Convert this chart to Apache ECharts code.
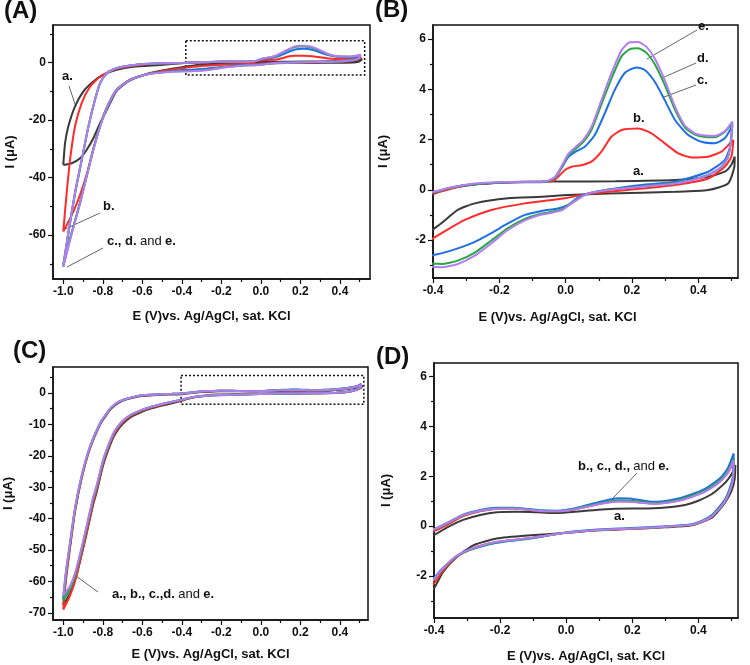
<!DOCTYPE html>
<html>
<head>
<meta charset="utf-8">
<script src="https://cdn.jsdelivr.net/npm/echarts@6/dist/echarts.min.js"></script>
<style>
html,body{margin:0;padding:0;background:#fff;}
#chart{width:750px;height:665px;}
</style>
</head>
<body>
<div id="chart"></div>
<script>
// ---------- tick values ----------
const xTicksFull = [-1.0, -0.8, -0.6, -0.4, -0.2, 0.0, 0.2, 0.4];
const xMinorFull = [-0.9, -0.7, -0.5, -0.3, -0.1, 0.1, 0.3, 0.5];
const xTicksZoom = [-0.4, -0.2, 0.0, 0.2, 0.4];
const xMinorZoom = [-0.3, -0.1, 0.1, 0.3, 0.5];
const yTicksA = [-60, -40, -20, 0];
const yMinorA = [-70, -50, -30, -10, 10];
const yTicksB = [-2, 0, 2, 4, 6];
const yMinorB = [-3, -1, 1, 3, 5];
const yTicksC = [-70, -60, -50, -40, -30, -20, -10, 0];
const yMinorC = [-65, -55, -45, -35, -25, -15, -5, 5];
const yTicksD = [-2, 0, 2, 4, 6];
const yMinorD = [-3, -1, 1, 3, 5];

const curveNames = ['a.', 'b.', 'c.', 'd.', 'e.'];

// ---------- experiment 1 (panels A and B): [E (V), I (uA)] ----------
const a1 = [[-1.0,-35.6],[-0.991,-28],[-0.975,-22.3],[-0.941,-15.3],[-0.899,-10.1],[-0.848,-6.6],[-0.8,-4.3],[-0.73,-2.5],[-0.646,-1.4],[-0.51,-0.8],[-0.45,-0.45],[-0.4,-0.17],
[-0.35,0.05],[-0.274,0.21],[-0.2,0.28],[-0.123,0.32],[0.0,0.33],[0.15,0.34],[0.33,0.39],[0.43,0.52],[0.48,0.72],[0.5,1.0],[0.51,1.32],
[0.509,0.92],[0.49,0.25],[0.43,-0.01],[0.33,-0.08],[0.128,-0.15],[0.008,-0.21],[-0.073,-0.28],[-0.174,-0.34],[-0.274,-0.54],[-0.325,-0.8],[-0.375,-1.33],[-0.4,-1.58],
[-0.45,-2.1],[-0.5,-2.7],[-0.561,-3.6],[-0.662,-6.2],[-0.73,-9.8],[-0.78,-16.5],[-0.814,-21.1],[-0.848,-26.3],[-0.882,-30.4],[-0.915,-33.3],[-0.957,-35],[-1.0,-35.6]];

const b1 = [[-1.0,-58.8],[-0.983,-45.5],[-0.966,-33.9],[-0.941,-22.3],[-0.907,-14.1],[-0.865,-8.4],[-0.814,-4.9],[-0.747,-2.5],[-0.68,-1.4],[-0.6,-0.7],[-0.5,-0.3],[-0.4,-0.14],
[-0.3,0.18],[-0.2,0.28],[-0.12,0.31],[-0.063,0.32],[-0.033,0.39],[-0.002,0.79],[0.018,0.92],[0.048,0.98],[0.078,1.12],[0.108,1.52],[0.138,2.11],[0.169,2.38],[0.219,2.44],[0.259,2.25],[0.299,1.85],[0.34,1.45],[0.38,1.29],[0.43,1.32],[0.47,1.52],[0.496,1.85],[0.506,1.98],
[0.5,1.32],[0.48,0.92],[0.43,0.45],[0.33,0.19],[0.229,0.05],[0.128,-0.08],[0.048,-0.21],[-0.002,-0.34],[-0.043,-0.41],[-0.123,-0.54],[-0.224,-0.8],[-0.304,-1.2],[-0.375,-1.73],[-0.4,-1.93],
[-0.45,-2.4],[-0.5,-2.9],[-0.561,-3.7],[-0.662,-5.9],[-0.73,-9.4],[-0.78,-15.8],[-0.814,-22],[-0.848,-30],[-0.88,-38.5],[-0.915,-46],[-0.95,-52],[-1.0,-58.8]];

const c1 = [[-1.0,-70.5],[-0.974,-59],[-0.94,-45],[-0.906,-33.5],[-0.872,-22],[-0.84,-13],[-0.814,-7.2],[-0.78,-3.7],[-0.745,-2.3],[-0.713,-1.6],[-0.65,-0.9],[-0.595,-0.5],[-0.5,-0.25],[-0.4,-0.1],
[-0.35,0.07],[-0.3,0.19],[-0.2,0.28],[-0.12,0.3],[-0.063,0.31],[-0.033,0.47],[-0.013,0.85],[0.008,1.3],[0.028,1.5],[0.058,1.71],[0.088,2.18],[0.118,3.04],[0.148,3.97],[0.179,4.66],[0.214,4.87],[0.239,4.77],[0.269,4.3],[0.299,3.57],[0.33,2.78],[0.37,2.18],[0.41,1.91],[0.45,1.85],[0.48,2.05],[0.503,2.55],
[0.496,1.72],[0.48,1.18],[0.43,0.72],[0.33,0.32],[0.229,0.19],[0.128,0.01],[0.068,-0.15],[0.038,-0.3],[0.008,-0.6],[-0.023,-0.74],[-0.073,-0.84],[-0.123,-1.0],[-0.174,-1.34],[-0.224,-1.72],[-0.274,-2.07],[-0.325,-2.33],[-0.375,-2.53],[-0.4,-2.6],
[-0.45,-2.9],[-0.5,-3.3],[-0.561,-3.8],[-0.662,-5.9],[-0.73,-9.4],[-0.78,-15.7],[-0.814,-22.1],[-0.848,-30.2],[-0.882,-39.5],[-0.915,-48.7],[-0.966,-61.3],[-1.0,-70.5]];

const d1 = [[-1.0,-71],[-0.973,-59],[-0.94,-45.5],[-0.905,-33.5],[-0.872,-22],[-0.84,-13],[-0.814,-7.2],[-0.78,-3.7],[-0.745,-2.3],[-0.713,-1.6],[-0.65,-0.9],[-0.595,-0.5],[-0.5,-0.25],[-0.4,-0.1],
[-0.35,0.07],[-0.3,0.19],[-0.2,0.29],[-0.12,0.31],[-0.063,0.32],[-0.033,0.48],[-0.013,0.88],[0.008,1.36],[0.028,1.6],[0.053,1.9],[0.078,2.38],[0.108,3.4],[0.138,4.42],[0.169,5.32],[0.194,5.6],[0.219,5.63],[0.244,5.45],[0.269,5.0],[0.299,4.18],[0.33,3.18],[0.36,2.48],[0.39,2.2],[0.42,2.1],[0.45,2.09],[0.48,2.3],[0.503,2.66],
[0.499,1.95],[0.49,1.3],[0.47,0.9],[0.43,0.6],[0.38,0.39],[0.33,0.27],[0.229,0.13],[0.128,0.0],[0.068,-0.15],[0.048,-0.28],[0.028,-0.44],[0.008,-0.62],[-0.013,-0.78],[-0.053,-0.9],[-0.083,-0.98],[-0.123,-1.16],[-0.174,-1.52],[-0.224,-2.02],[-0.274,-2.5],[-0.325,-2.82],[-0.375,-2.95],[-0.4,-2.94],
[-0.45,-3.1],[-0.5,-3.4],[-0.561,-3.85],[-0.662,-6],[-0.73,-9.5],[-0.78,-15.8],[-0.814,-22.2],[-0.848,-30.3],[-0.882,-39.6],[-0.915,-48.8],[-0.966,-61.5],[-1.0,-71]];

const e1 = [[-1.0,-71],[-0.975,-59.4],[-0.941,-45.5],[-0.907,-33.9],[-0.873,-22.3],[-0.84,-13],[-0.814,-7.2],[-0.78,-3.7],[-0.745,-2.3],[-0.713,-1.6],[-0.65,-0.9],[-0.595,-0.5],[-0.5,-0.25],[-0.4,-0.08],
[-0.35,0.08],[-0.3,0.2],[-0.274,0.25],[-0.2,0.3],[-0.12,0.32],[-0.063,0.33],[-0.033,0.5],[-0.013,0.92],[0.008,1.42],[0.028,1.68],[0.053,1.98],[0.078,2.5],[0.108,3.57],[0.138,4.63],[0.169,5.56],[0.194,5.87],[0.219,5.88],[0.244,5.69],[0.269,5.23],[0.299,4.37],[0.33,3.31],[0.36,2.55],[0.39,2.25],[0.42,2.16],[0.45,2.14],[0.48,2.33],[0.503,2.72],
[0.499,1.98],[0.49,1.32],[0.47,0.92],[0.43,0.59],[0.38,0.38],[0.33,0.25],[0.229,0.12],[0.128,-0.01],[0.068,-0.15],[0.048,-0.28],[0.028,-0.45],[0.008,-0.64],[-0.013,-0.82],[-0.053,-0.94],[-0.083,-1.02],[-0.123,-1.22],[-0.174,-1.6],[-0.224,-2.13],[-0.274,-2.62],[-0.325,-2.95],[-0.375,-3.08],[-0.4,-3.06],
[-0.45,-3.2],[-0.5,-3.45],[-0.561,-3.9],[-0.662,-6],[-0.73,-9.5],[-0.78,-15.9],[-0.814,-22.3],[-0.848,-30.4],[-0.882,-39.7],[-0.915,-49],[-0.966,-61.7],[-1.0,-71]];

// ---------- experiment 2 (panels C and D) ----------
const a2 = [[-1.0,-67.5],[-0.986,-58.2],[-0.966,-48.8],[-0.941,-37.6],[-0.907,-27],[-0.865,-17.6],[-0.814,-10],[-0.78,-6.8],[-0.755,-4.8],[-0.72,-3.1],[-0.679,-2.0],[-0.62,-1.1],[-0.561,-0.75],[-0.5,-0.55],[-0.45,-0.45],[-0.4,-0.35],
[-0.36,-0.05],[-0.312,0.25],[-0.26,0.45],[-0.21,0.56],[-0.15,0.58],[-0.108,0.57],[-0.05,0.53],[-0.027,0.53],[0.044,0.6],[0.146,0.7],[0.248,0.71],[0.319,0.77],[0.36,0.85],[0.4,1.02],[0.44,1.28],[0.461,1.5],[0.485,1.8],[0.502,2.12],[0.512,2.45],
[0.51,1.9],[0.5,1.4],[0.481,0.95],[0.46,0.6],[0.44,0.33],[0.38,0.03],[0.298,-0.05],[0.197,-0.11],[0.095,-0.17],[-0.007,-0.28],[-0.108,-0.37],[-0.21,-0.5],[-0.281,-0.77],[-0.332,-1.25],[-0.373,-1.85],[-0.4,-2.5],
[-0.46,-3.4],[-0.5,-4.0],[-0.561,-5.0],[-0.6,-5.9],[-0.662,-7.8],[-0.7,-9.9],[-0.73,-12.3],[-0.75,-14.6],[-0.78,-19.5],[-0.8,-23.4],[-0.831,-31.5],[-0.85,-35.8],[-0.882,-44.8],[-0.9,-49.6],[-0.936,-58.6],[-0.966,-63.8],[-1.0,-67.5]];

const b2 = [[-1.0,-69],[-0.986,-59.5],[-0.966,-49.5],[-0.941,-38],[-0.907,-27.2],[-0.865,-17.6],[-0.814,-9.9],[-0.78,-6.6],[-0.755,-4.6],[-0.72,-2.9],[-0.679,-1.85],[-0.62,-0.95],[-0.561,-0.6],[-0.5,-0.4],[-0.45,-0.3],[-0.4,-0.2],
[-0.36,0.05],[-0.312,0.4],[-0.26,0.6],[-0.21,0.7],[-0.16,0.71],[-0.129,0.68],[-0.08,0.6],[-0.027,0.6],[0.02,0.66],[0.07,0.8],[0.115,0.93],[0.156,1.0],[0.19,0.99],[0.217,0.96],[0.25,0.92],[0.275,0.91],[0.3,0.94],[0.349,1.06],[0.39,1.25],[0.42,1.4],[0.45,1.64],[0.471,1.86],[0.49,2.15],[0.507,2.6],
[0.505,1.9],[0.495,1.42],[0.481,1.0],[0.46,0.66],[0.44,0.37],[0.41,0.17],[0.38,0.05],[0.298,-0.04],[0.197,-0.11],[0.095,-0.17],[-0.007,-0.28],[-0.108,-0.48],[-0.21,-0.64],[-0.281,-0.88],[-0.332,-1.24],[-0.373,-1.8],[-0.4,-2.3],
[-0.46,-3.1],[-0.5,-3.75],[-0.561,-4.8],[-0.6,-5.6],[-0.662,-7.4],[-0.7,-9.4],[-0.73,-11.8],[-0.75,-14],[-0.78,-18.8],[-0.8,-22.8],[-0.831,-30.8],[-0.85,-35.2],[-0.882,-44.4],[-0.9,-49.4],[-0.936,-59],[-0.966,-64.5],[-1.0,-69]];

const c2 = [[-1.0,-65.5],[-0.986,-57],[-0.966,-48],[-0.941,-37],[-0.907,-26.5],[-0.865,-17.1],[-0.814,-9.6],[-0.78,-6.4],[-0.755,-4.4],[-0.72,-2.8],[-0.679,-1.8],[-0.62,-0.9],[-0.561,-0.55],[-0.5,-0.35],[-0.45,-0.24],[-0.4,-0.12],
[-0.36,0.13],[-0.312,0.46],[-0.26,0.65],[-0.21,0.74],[-0.16,0.74],[-0.129,0.71],[-0.08,0.64],[-0.027,0.62],[0.02,0.7],[0.07,0.87],[0.115,1.02],[0.156,1.12],[0.19,1.11],[0.217,1.06],[0.25,0.99],[0.275,0.98],[0.3,1.01],[0.349,1.14],[0.39,1.33],[0.42,1.5],[0.45,1.76],[0.471,2.0],[0.49,2.35],[0.507,2.92],
[0.505,2.05],[0.495,1.52],[0.481,1.08],[0.46,0.72],[0.44,0.43],[0.41,0.21],[0.38,0.08],[0.298,-0.01],[0.197,-0.08],[0.095,-0.14],[-0.007,-0.27],[-0.108,-0.5],[-0.21,-0.67],[-0.281,-0.91],[-0.332,-1.2],[-0.373,-1.68],[-0.4,-2.08],
[-0.46,-2.9],[-0.5,-3.5],[-0.561,-4.5],[-0.6,-5.3],[-0.662,-7.1],[-0.7,-9],[-0.73,-11.3],[-0.75,-13.5],[-0.78,-18.1],[-0.8,-21.9],[-0.831,-29.8],[-0.85,-33.9],[-0.882,-42.8],[-0.9,-47.8],[-0.936,-57],[-0.966,-62.2],[-1.0,-65.5]];

const d2 = [[-1.0,-66],[-0.986,-57.5],[-0.966,-48.3],[-0.941,-37.2],[-0.907,-26.6],[-0.865,-17.2],[-0.814,-9.7],[-0.78,-6.5],[-0.755,-4.5],[-0.72,-2.8],[-0.679,-1.8],[-0.62,-0.9],[-0.561,-0.55],[-0.5,-0.35],[-0.45,-0.25],[-0.4,-0.14],
[-0.36,0.11],[-0.312,0.43],[-0.26,0.62],[-0.21,0.71],[-0.16,0.72],[-0.129,0.69],[-0.08,0.62],[-0.027,0.6],[0.02,0.67],[0.07,0.82],[0.115,0.95],[0.156,1.04],[0.19,1.03],[0.217,0.99],[0.25,0.94],[0.275,0.93],[0.3,0.96],[0.349,1.08],[0.39,1.27],[0.42,1.42],[0.45,1.67],[0.471,1.9],[0.49,2.2],[0.507,2.72],
[0.505,1.95],[0.495,1.45],[0.481,1.02],[0.46,0.67],[0.44,0.39],[0.41,0.19],[0.38,0.06],[0.298,-0.03],[0.197,-0.1],[0.095,-0.16],[-0.007,-0.28],[-0.108,-0.49],[-0.21,-0.65],[-0.281,-0.9],[-0.332,-1.22],[-0.373,-1.72],[-0.4,-2.15],
[-0.46,-2.95],[-0.5,-3.55],[-0.561,-4.55],[-0.6,-5.35],[-0.662,-7.1],[-0.7,-9],[-0.73,-11.3],[-0.75,-13.5],[-0.78,-18.2],[-0.8,-22],[-0.831,-29.9],[-0.85,-34],[-0.882,-43],[-0.9,-48],[-0.936,-57.2],[-0.966,-62.5],[-1.0,-66]];

const e2 = [[-1.0,-64.5],[-0.986,-56.5],[-0.966,-47.5],[-0.941,-36.8],[-0.907,-26.3],[-0.865,-17],[-0.814,-9.6],[-0.78,-6.4],[-0.755,-4.4],[-0.72,-2.8],[-0.679,-1.8],[-0.62,-0.9],[-0.561,-0.55],[-0.5,-0.35],[-0.45,-0.24],[-0.4,-0.12],
[-0.36,0.12],[-0.312,0.44],[-0.26,0.62],[-0.21,0.7],[-0.16,0.71],[-0.129,0.68],[-0.08,0.61],[-0.027,0.6],[0.02,0.66],[0.07,0.8],[0.115,0.92],[0.156,0.99],[0.19,0.98],[0.217,0.95],[0.25,0.91],[0.275,0.9],[0.3,0.93],[0.349,1.04],[0.39,1.22],[0.42,1.38],[0.45,1.62],[0.471,1.85],[0.49,2.15],[0.507,2.65],
[0.505,1.9],[0.495,1.4],[0.481,1.0],[0.46,0.65],[0.44,0.38],[0.41,0.18],[0.38,0.06],[0.298,-0.03],[0.197,-0.1],[0.095,-0.16],[-0.007,-0.28],[-0.108,-0.48],[-0.21,-0.63],[-0.281,-0.88],[-0.332,-1.2],[-0.373,-1.7],[-0.4,-2.12],
[-0.46,-2.9],[-0.5,-3.5],[-0.561,-4.5],[-0.6,-5.3],[-0.662,-7.0],[-0.7,-8.9],[-0.73,-11.1],[-0.75,-13.3],[-0.78,-17.9],[-0.8,-21.6],[-0.831,-29.4],[-0.85,-33.5],[-0.882,-42.4],[-0.9,-47.3],[-0.936,-56.4],[-0.966,-61.5],[-1.0,-64.5]];

// ---------- chart ----------
const colors = ['#3a3a3a', '#ff2a2a', '#1f6fe6', '#27a844', '#b47cf2'];
const FONT = "'Liberation Sans', Arial, sans-serif";
const xName = 'E (V)vs. Ag/AgCl, sat. KCl';
const yName = 'I (\u03bcA)';

const panels = [
  {grid: {left: 53, top: 25, width: 317, height: 254}, x: [-1.052, 0.552], y: [-75.3, 13.1],
   xt: xTicksFull, xm: xMinorFull, yt: yTicksA, ym: yMinorA, xGap: 31, yGap: 36, xPad: [0,0,0,0], data: [a1,b1,c1,d1,e1],
   box: [[-0.38, 7.6], [0.525, -4.3]]},
  {grid: {left: 433, top: 25, width: 305, height: 253}, x: [-0.4, 0.52], y: [-3.51, 6.56],
   xt: xTicksZoom, xm: xMinorZoom, yt: yTicksB, ym: yMinorB, xGap: 33, yGap: 43, xPad: [0,56,0,0], data: [a1,b1,c1,d1,e1]},
  {grid: {left: 53, top: 367, width: 315, height: 253}, x: [-1.052, 0.542], y: [-72.3, 8.3],
   xt: xTicksFull, xm: xMinorFull, yt: yTicksC, ym: yMinorC, xGap: 28, yGap: 38, xPad: [0,0,0,0], data: [a2,b2,c2,d2,e2],
   box: [[-0.404, 5.6], [0.521, -3.6]]},
  {grid: {left: 434, top: 363, width: 304, height: 255}, x: [-0.4, 0.52], y: [-3.69, 6.55],
   xt: xTicksZoom, xm: xMinorZoom, yt: yTicksD, ym: yMinorD, xGap: 32, yGap: 41, xPad: [0,0,0,0], data: [a2,b2,c2,d2,e2]}
];

const grids = [], xAxes = [], yAxes = [], series = [];
const lblStyle = {color: '#111', fontWeight: 'bold', fontSize: 12, fontFamily: FONT};
const axLine = {show: true, onZero: false, lineStyle: {color: '#111', width: 1.5}};
const hiddenLine = {show: false, onZero: false};

panels.forEach((p, i) => {
  grids.push(Object.assign({show: true, borderColor: '#111', borderWidth: 1.5, backgroundColor: 'transparent'}, p.grid));
  xAxes.push({type: 'value', gridIndex: i, min: p.x[0], max: p.x[1], position: 'bottom',
    axisLine: axLine, splitLine: {show: false},
    axisTick: {show: true, length: 5, customValues: p.xt, lineStyle: {color: '#111', width: 1.2}},
    axisLabel: Object.assign({customValues: p.xt, margin: 7, formatter: v => v.toFixed(1)}, lblStyle),
    name: xName, nameLocation: 'middle', nameGap: p.xGap,
    nameTextStyle: {color: '#111', fontWeight: 'bold', fontSize: 13, fontFamily: FONT, padding: p.xPad}
  });
  xAxes.push({type: 'value', gridIndex: i, min: p.x[0], max: p.x[1], position: 'bottom', offset: 0,
    axisLine: hiddenLine, splitLine: {show: false}, axisLabel: {show: false},
    axisTick: {show: true, length: 3, customValues: p.xm, lineStyle: {color: '#111', width: 1.2}}
  });
  yAxes.push({type: 'value', gridIndex: i, min: p.y[0], max: p.y[1], position: 'left',
    axisLine: axLine, splitLine: {show: false},
    axisTick: {show: true, length: 5, customValues: p.yt, lineStyle: {color: '#111', width: 1.2}},
    axisLabel: Object.assign({customValues: p.yt, margin: 7}, lblStyle),
    name: yName, nameLocation: 'middle', nameGap: p.yGap,
    nameTextStyle: {color: '#111', fontWeight: 'bold', fontSize: 13, fontFamily: FONT}
  });
  yAxes.push({type: 'value', gridIndex: i, min: p.y[0], max: p.y[1], position: 'left', offset: 0,
    axisLine: hiddenLine, splitLine: {show: false}, axisLabel: {show: false},
    axisTick: {show: true, length: 3, customValues: p.ym, lineStyle: {color: '#111', width: 1.2}}
  });
  p.data.forEach((d, k) => {
    const s = {
      type: 'line', name: curveNames[k] + ' ' + i, xAxisIndex: 2 * i, yAxisIndex: 2 * i,
      data: d, showSymbol: false, symbol: 'none', smooth: 0.2, clip: true,
      lineStyle: {color: colors[k], width: 2}, z: 2 + k, animation: false
    };
    if (k === 4 && p.box) {
      s.markArea = {silent: true, itemStyle: {color: 'rgba(0,0,0,0)', borderColor: '#111', borderWidth: 1.5, borderType: [2, 2]},
        data: [[{coord: p.box[0]}, {coord: p.box[1]}]]};
    }
    series.push(s);
  });
});

const ann = {fill: '#111', fontWeight: 'bold', fontSize: 13, fontFamily: FONT};
function txt(x, y, t, extra) {
  return {type: 'text', left: x, top: y, style: Object.assign({text: t}, ann, extra || {})};
}
function ptr(x1, y1, x2, y2) {
  return {type: 'line', shape: {x1, y1, x2, y2}, style: {stroke: '#666', lineWidth: 1}};
}
const rich = {b: {fontWeight: 'bold', fontSize: 13, fontFamily: FONT, fill: '#111'},
              n: {fontWeight: 'normal', fontSize: 13, fontFamily: FONT, fill: '#111'}};

const graphic = [
  txt(4, -1, '(A)', {fontSize: 24}),
  txt(375, -2, '(B)', {fontSize: 24}),
  txt(13, 339, '(C)', {fontSize: 24}),
  txt(376, 345, '(D)', {fontSize: 24}),
  txt(62, 70, 'a.'), ptr(69, 86, 76, 107),
  txt(103, 200, 'b.'), ptr(100, 213, 63, 230),
  {type: 'text', left: 107, top: 235, style: {text: '{b|c., d.} {n|and} {b|e.}', rich: rich}}, ptr(103, 248, 67, 267),
  txt(698, 20, 'e.'), ptr(697, 30, 647, 59),
  txt(697, 52, 'd.'), ptr(696, 63, 662, 78),
  txt(697, 74, 'c.'), ptr(696, 85, 664, 97),
  txt(633, 112, 'b.'),
  txt(633, 165, 'a.'),
  {type: 'text', left: 112, top: 588, style: {text: '{b|a., b., c.,d.} {n|and} {b|e.}', rich: rich}}, ptr(98, 592, 76, 576),
  {type: 'text', left: 578, top: 460, style: {text: '{b|b., c., d.,} {n|and} {b|e.}', rich: rich}}, ptr(637, 473, 613, 498),
  txt(614, 510, 'a.')
];

const chart = echarts.init(document.getElementById('chart'), null, {renderer: 'canvas'});
chart.setOption({
  animation: false,
  backgroundColor: '#fff',
  grid: grids, xAxis: xAxes, yAxis: yAxes, series: series, graphic: graphic
});
</script>
</body>
</html>
